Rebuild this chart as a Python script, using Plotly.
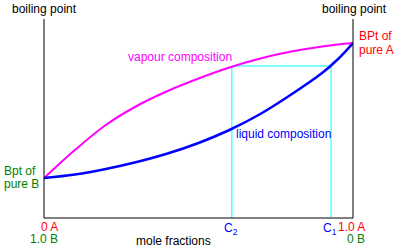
import plotly.graph_objects as go

# mole fraction of A and boiling point (arbitrary units)
mole_fraction_a = [0.0, 0.1, 0.2, 0.3, 0.4, 0.5, 0.6, 0.7, 0.8, 0.9, 0.95, 1.0]
vapour_bp = [40, 68, 93, 112, 127, 139.5, 150.5, 159.5, 166.5, 171.5, 173.5, 175]
liquid_bp = [40, 43.5, 49, 56, 64.5, 75, 88, 104, 123.5, 145, 158.5, 175]

# tie line construction
c2 = 0.608
c1 = 0.929
tie_bp = 152

W, H = 397, 249
L, R, T, B = 44, 353, 19, 218

fig = go.Figure()
fig.add_trace(go.Scatter(x=[c2, c2, c1, c1], y=[0, tie_bp, tie_bp, 0], mode="lines",
                         line=dict(color="#00FFFF", width=1), hoverinfo="skip"))
fig.add_trace(go.Scatter(x=mole_fraction_a, y=vapour_bp, mode="lines", line_shape="spline",
                         line=dict(color="#FF00FF", width=2)))
fig.add_trace(go.Scatter(x=mole_fraction_a, y=liquid_bp, mode="lines", line_shape="spline",
                         line=dict(color="#0000FF", width=2.5)))

font = "Liberation Sans, Arial, sans-serif"

def px(xp, yp):
    return (xp - L) / (R - L), (B - yp) / (B - T)

def ann(text, xp, yp, color, xanchor="center", size=12):
    xx, yy = px(xp, yp)
    fig.add_annotation(text=text, x=xx, y=yy, xref="paper", yref="paper",
                       xanchor=xanchor, yanchor="middle", showarrow=False,
                       font=dict(family=font, size=size, color=color))

ann("boiling point", 44, 9, "black")
ann("boiling point", 354, 9, "black")
ann("BPt of", 357, 36, "#FF0000", "left")
ann("pure A", 357, 50, "#FF0000", "left")
ann("Bpt of", 2, 171, "#008000", "left")
ann("pure B", 2, 184, "#008000", "left")
ann("0 A", 60, 227, "#FF0000", "right")
ann("1.0 B", 60, 239, "#008000", "right")
ann("1.0 A", 367, 227, "#FF0000", "right")
ann("0 B", 367, 239, "#008000", "right")
ann("C<sub>2</sub>", 231, 229, "#0000FF")
ann("C<sub>1</sub>", 330, 229, "#0000FF")
ann("mole fractions", 173, 241, "black")
ann("vapour composition", 180, 57, "#FF00FF")
ann("liquid composition", 283, 134, "#0000FF")

for xs in (0, 1):
    fig.add_shape(type="line", xref="paper", yref="paper", x0=xs, x1=xs, y0=0, y1=1,
                  line=dict(color="black", width=1))
fig.add_shape(type="line", xref="paper", yref="paper", x0=0, x1=1, y0=0, y1=0,
              line=dict(color="black", width=1))

fig.update_layout(width=W, height=H, margin=dict(l=L, r=W - R, t=T, b=H - B),
                  paper_bgcolor="white", plot_bgcolor="white", showlegend=False)
fig.update_xaxes(range=[0, 1], visible=False)
fig.update_yaxes(range=[0, B - T], visible=False)
fig.write_html("out.html")
